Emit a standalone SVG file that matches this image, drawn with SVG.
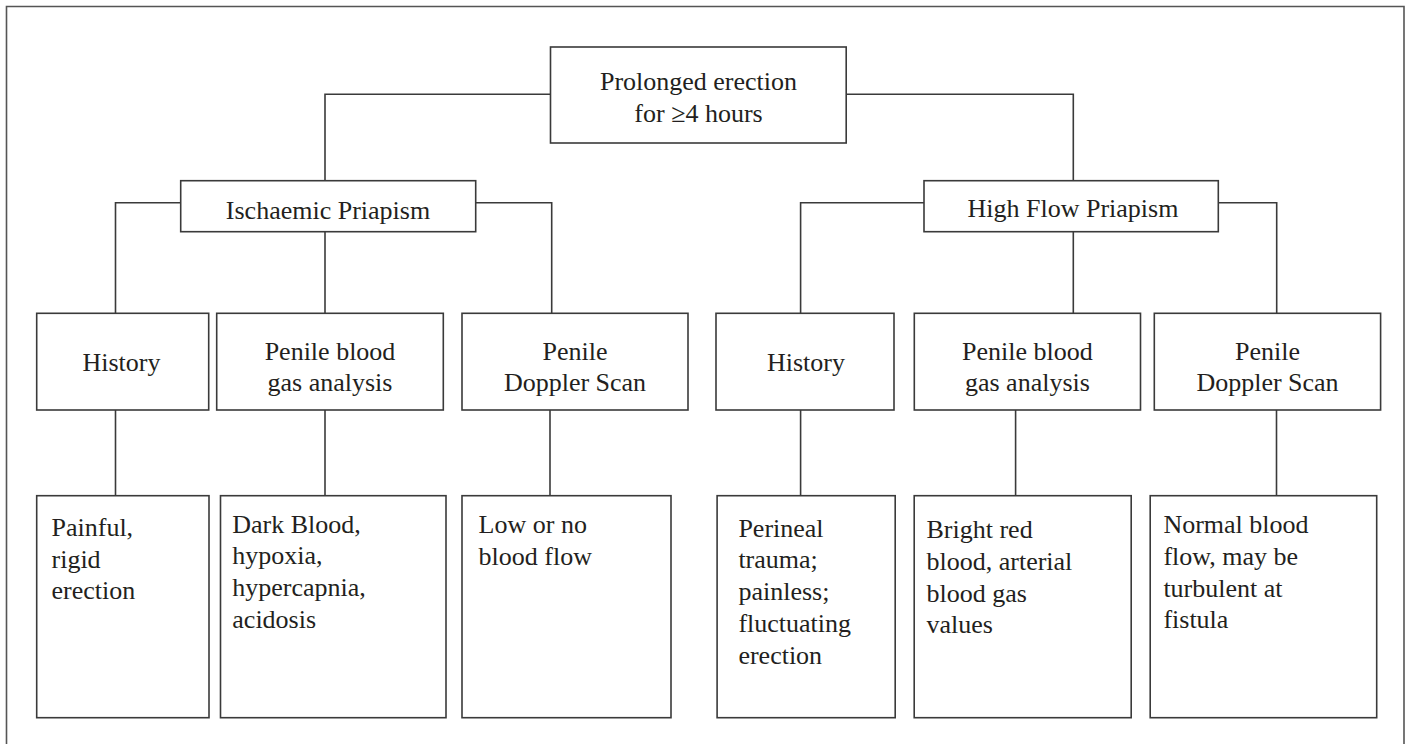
<svg xmlns="http://www.w3.org/2000/svg" width="1408" height="744" viewBox="0 0 1408 744" font-family="'Liberation Serif', 'Times New Roman', 'DejaVu Serif', serif">
<style>
.box{fill:#fff;stroke:#3a3a3a;stroke-width:1.6}
.c{fill:none;stroke:#3a3a3a;stroke-width:1.6}
text{font-family:'Liberation Serif','Times New Roman','DejaVu Serif',serif;font-size:26px;fill:#231f20}
.m{text-anchor:middle}
</style>
<rect width="1408" height="744" fill="#fff"/>
<path d="M6.5,760 V6.5 H1404 V760" fill="none" stroke="#555" stroke-width="1.6"/>
<g id="connectors" class="c">
<path d="M550.5,94.3 H325 V180.7"/>
<path d="M846,94.3 H1073.3 V180.7"/>
<path d="M180.7,202.7 H115.5 V313.3"/>
<path d="M325,231.7 V313.3"/>
<path d="M475.7,202.7 H551.7 V313.3"/>
<path d="M924,202.7 H800.6 V313.3"/>
<path d="M1073.3,231.7 V313.3"/>
<path d="M1218.3,202.7 H1276.7 V313.3"/>
<path d="M115.5,410 V495.7"/>
<path d="M325,410 V495.7"/>
<path d="M550,410 V495.7"/>
<path d="M800.6,410 V495.7"/>
<path d="M1015.6,410 V495.7"/>
<path d="M1276.5,410 V495.7"/>
</g>
<g id="root"><rect class="box" x="550.5" y="47" width="295.7" height="96"/><text class="m" x="698.5" y="90">Prolonged erection</text><text class="m" x="698.5" y="121.7">for ≥4 hours</text></g>
<g id="ischaemic"><rect class="box" x="180.7" y="180.7" width="295" height="51"/><text class="m" x="328" y="219">Ischaemic Priapism</text></g>
<g id="highflow"><rect class="box" x="924" y="180.7" width="294.3" height="51"/><text class="m" x="1073" y="216.5">High Flow Priapism</text></g>
<g id="i-history"><rect class="box" x="36.7" y="313.3" width="172" height="96.7"/><text class="m" x="121.5" y="370.7">History</text></g>
<g id="i-gas"><rect class="box" x="216.7" y="313.3" width="226.6" height="96.7"/><text class="m" x="330" y="360">Penile blood</text><text class="m" x="330" y="391">gas analysis</text></g>
<g id="i-doppler"><rect class="box" x="462" y="313.3" width="226" height="96.7"/><text class="m" x="575" y="360">Penile</text><text class="m" x="575" y="391">Doppler Scan</text></g>
<g id="h-history"><rect class="box" x="716" y="313.3" width="178" height="96.7"/><text class="m" x="806" y="370.7">History</text></g>
<g id="h-gas"><rect class="box" x="914.3" y="313.3" width="226.2" height="96.7"/><text class="m" x="1027.4" y="360">Penile blood</text><text class="m" x="1027.4" y="391">gas analysis</text></g>
<g id="h-doppler"><rect class="box" x="1154.3" y="313.3" width="226.3" height="96.7"/><text class="m" x="1267.5" y="360">Penile</text><text class="m" x="1267.5" y="391">Doppler Scan</text></g>
<g id="i-history-res"><rect class="box" x="36.7" y="495.7" width="172.3" height="222"/><text x="51.5" y="536">Painful,</text><text x="51.5" y="567.7">rigid</text><text x="51.5" y="599.4">erection</text></g>
<g id="i-gas-res"><rect class="box" x="220.5" y="495.7" width="225.5" height="222"/><text x="232.3" y="532.7">Dark Blood,</text><text x="232.3" y="564.4">hypoxia,</text><text x="232.3" y="596.1">hypercapnia,</text><text x="232.3" y="627.8">acidosis</text></g>
<g id="i-doppler-res"><rect class="box" x="462" y="495.7" width="209" height="222"/><text x="478.6" y="533.3">Low or no</text><text x="478.6" y="565">blood flow</text></g>
<g id="h-history-res"><rect class="box" x="717.1" y="495.7" width="178.1" height="222"/><text x="738.4" y="536.7">Perineal</text><text x="738.4" y="568.4">trauma;</text><text x="738.4" y="600.1">painless;</text><text x="738.4" y="631.8">fluctuating</text><text x="738.4" y="663.5">erection</text></g>
<g id="h-gas-res"><rect class="box" x="914.2" y="495.7" width="217" height="222"/><text x="926.5" y="538.3">Bright red</text><text x="926.5" y="570">blood, arterial</text><text x="926.5" y="601.7">blood gas</text><text x="926.5" y="633.4">values</text></g>
<g id="h-doppler-res"><rect class="box" x="1150.2" y="495.7" width="226.5" height="222"/><text x="1163.4" y="533.3">Normal blood</text><text x="1163.4" y="565">flow, may be</text><text x="1163.4" y="596.7">turbulent at</text><text x="1163.4" y="628.4">fistula</text></g>
</svg>
